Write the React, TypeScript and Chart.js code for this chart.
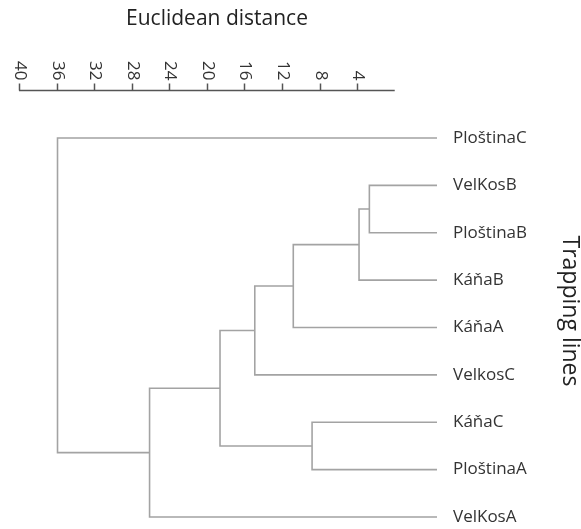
import React, { useEffect, useRef } from "react";
import { Chart, registerables } from "chart.js";

Chart.register(...registerables);

// Trapping lines (leaves, top to bottom)
const leafNames = [
  "PloštinaC",
  "VelKosB",
  "PloštinaB",
  "KáňaB",
  "KáňaA",
  "VelkosC",
  "KáňaC",
  "PloštinaA",
  "VelKosA",
];

// Agglomeration steps: indices < 9 are leaves, 9+ are earlier merges
const mergeLeft = [1, 9, 10, 6, 11, 13, 14, 0];
const mergeRight = [2, 3, 4, 7, 5, 12, 8, 15];
const mergeDistance = [2.7, 3.8, 10.8, 8.8, 14.9, 18.6, 26.1, 35.9];

// Distance axis ticks
const distanceTicks = [40, 36, 32, 28, 24, 20, 16, 12, 8, 4];

// Where leaf branches end, in distance units (past zero, toward the labels)
const LEAF_END = -4.5;

const FONT = "'Open Sans', sans-serif";
const LINE_COLOR = "#a3a3a3";

type Node = { x: number; y: number };

function buildDatasets() {
  const nodes: Node[] = leafNames.map((_, i) => ({ x: LEAF_END, y: i }));
  const datasets: any[] = [];
  mergeLeft.forEach((l, k) => {
    const r = mergeRight[k];
    const h = mergeDistance[k];
    const a = nodes[l];
    const b = nodes[r];
    datasets.push({
      data: [
        { x: a.x, y: a.y },
        { x: h, y: a.y },
        { x: h, y: b.y },
        { x: b.x, y: b.y },
      ],
      showLine: true,
      borderColor: LINE_COLOR,
      borderWidth: 1.6,
      pointRadius: 0,
      tension: 0,
      fill: false,
    });
    nodes.push({ x: h, y: (a.y + b.y) / 2 });
  });
  return datasets;
}

// Draws the distance scale across the top (labels turned a quarter clockwise)
// and the side caption for the trapping lines
const distanceAxisPlugin = {
  id: "distanceAxis",
  afterDraw(chart: any) {
    const ctx = chart.ctx;
    const xs = chart.scales.x;
    const axisY = 90.5;
    ctx.save();

    ctx.fillStyle = "#222";
    ctx.font = `21px ${FONT}`;
    ctx.textAlign = "center";
    ctx.textBaseline = "middle";
    ctx.fillText("Euclidean distance", 217, 19);

    ctx.save();
    ctx.translate(570, 311);
    ctx.rotate(Math.PI / 2);
    ctx.font = `23px ${FONT}`;
    ctx.fillText("Trapping lines", 0, 0);
    ctx.restore();

    ctx.strokeStyle = "#555";
    ctx.lineWidth = 1.5;
    ctx.beginPath();
    ctx.moveTo(xs.getPixelForValue(40), axisY);
    ctx.lineTo(xs.getPixelForValue(0), axisY);
    ctx.stroke();

    ctx.font = `17px ${FONT}`;
    ctx.fillStyle = "#333";
    distanceTicks.forEach((t) => {
      const px = Math.round(xs.getPixelForValue(t)) + 0.5;
      ctx.beginPath();
      ctx.moveTo(px, axisY);
      ctx.lineTo(px, axisY - 7);
      ctx.stroke();
      ctx.save();
      ctx.translate(px, axisY - 10);
      ctx.rotate(Math.PI / 2);
      ctx.textAlign = "right";
      ctx.textBaseline = "middle";
      ctx.fillText(String(t), 0, 0);
      ctx.restore();
    });
    ctx.restore();
  },
};

export default function App() {
  const canvasRef = useRef<HTMLCanvasElement | null>(null);

  useEffect(() => {
    if (!canvasRef.current) return;
    Chart.defaults.font.family = FONT;
    const chart = new Chart(canvasRef.current, {
      type: "scatter",
      data: { datasets: buildDatasets() },
      options: {
        animation: false,
        responsive: true,
        maintainAspectRatio: false,
        layout: { padding: { left: 19, top: 128.5, bottom: 2.5, right: 0 } },
        plugins: {
          legend: { display: false },
          tooltip: { enabled: false },
          title: { display: false },
        },
        scales: {
          x: {
            type: "linear",
            display: false,
            reverse: true,
            min: LEAF_END,
            max: 40,
          },
          y: {
            type: "linear",
            position: "right",
            reverse: true,
            min: -0.2,
            max: 8.2,
            grid: { display: false, drawTicks: false },
            border: { display: false },
            afterBuildTicks: (scale: any) => {
              scale.ticks = leafNames.map((_, i) => ({ value: i }));
            },
            afterFit: (scale: any) => {
              scale.width = 144;
              scale.paddingTop = 0;
              scale.paddingBottom = 0;
            },
            ticks: {
              padding: 16,
              color: "#333",
              font: { size: 17, family: FONT },
              callback: (v: any) => leafNames[Number(v)] ?? "",
            },
          },
        },
      },
      plugins: [distanceAxisPlugin],
    });
    return () => chart.destroy();
  }, []);

  return (
    <div style={{ position: "absolute", left: 0, top: 0, width: 581, height: 529, background: "#fff" }}>
      <canvas ref={canvasRef} style={{ display: "block" }} />
    </div>
  );
}
